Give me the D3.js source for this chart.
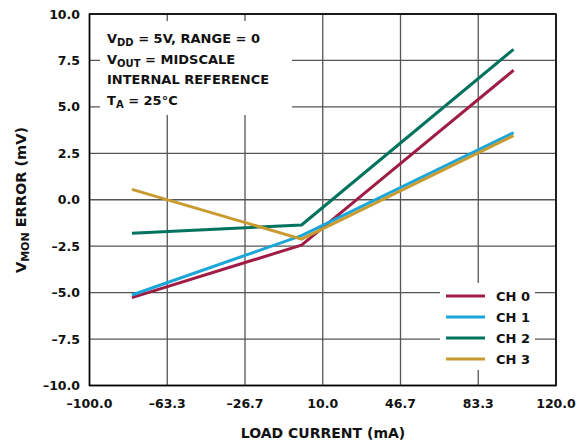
<!DOCTYPE html>
<html><head><meta charset="utf-8">
<script src="https://cdn.jsdelivr.net/npm/d3@7"></script>
<style>body{margin:0;background:#fff;} text{font-family:"DejaVu Sans",Arial,Helvetica,sans-serif;font-weight:bold;fill:#111;}</style>
</head><body>
<svg id="c" width="582" height="440"></svg>
<script>
const loadCurrent = [-80, 0, 100];
const ch0 = [-5.27, -2.44, 6.97];
const ch1 = [-5.13, -1.93, 3.61];
const ch2 = [-1.81, -1.36, 8.1];
const ch3 = [0.56, -2.12, 3.45];
const seriesNames = ["CH 0", "CH 1", "CH 2", "CH 3"];
const seriesColors = ["#a01c44", "#1aa6d9", "#00735f", "#c99a2e"];
const xTicks = [-100, -63.3, -26.7, 10, 46.7, 83.3, 120];
const xTickLabels = ["\u2013100.0", "\u201363.3", "\u201326.7", "10.0", "46.7", "83.3", "120.0"];
const yTicks = [10, 7.5, 5, 2.5, 0, -2.5, -5, -7.5, -10];

const svg = d3.select("#c");
const L = 89.5, R = 556, T = 14, B = 385.5;
const x = d3.scaleLinear().domain([-100, 120]).range([L, R]);
const y = d3.scaleLinear().domain([-10, 10]).range([B, T]);
const xPos = v => x(-100 + xTicks.indexOf(v) * 220 / 6);

// grid
const g = svg.append("g");
g.selectAll("line.v").data(xTicks).enter().append("line")
  .attr("x1", d => xPos(d)).attr("x2", d => xPos(d)).attr("y1", T).attr("y2", B)
  .attr("stroke", "#555").attr("stroke-width", 1.3);
g.selectAll("line.h").data(yTicks).enter().append("line")
  .attr("y1", d => y(d)).attr("y2", d => y(d)).attr("x1", L).attr("x2", R)
  .attr("stroke", "#555").attr("stroke-width", 1.3);

// white masks for annotation and legend
svg.append("rect").attr("x", 100).attr("y", 21).attr("width", 192).attr("height", 94).attr("fill", "#fff");
svg.append("rect").attr("x", 440).attr("y", 283).attr("width", 95).attr("height", 87).attr("fill", "#fff");

// frame
svg.append("rect").attr("x", L).attr("y", T).attr("width", R - L).attr("height", B - T)
  .attr("fill", "none").attr("stroke", "#000").attr("stroke-width", 1.6);

// axes labels
svg.append("g").selectAll("text").data(yTicks).enter().append("text")
  .attr("x", 80).attr("y", d => y(d) + 4.5).attr("text-anchor", "end").attr("font-size", 12.5)
  .text(d => (d < 0 ? "\u2013" : "") + Math.abs(d).toFixed(1));
svg.append("g").selectAll("text").data(xTicks).enter().append("text")
  .attr("x", d => xPos(d)).attr("y", 408).attr("text-anchor", "middle").attr("font-size", 12.5)
  .text((d, i) => xTickLabels[i]);

svg.append("text").attr("x", 323).attr("y", 437.5).attr("text-anchor", "middle").attr("font-size", 14)
  .text("LOAD CURRENT (mA)");
const yl = svg.append("text").attr("transform", "translate(26,200) rotate(-90)").attr("text-anchor", "middle").attr("font-size", 14.5);
yl.append("tspan").text("V");
yl.append("tspan").attr("font-size", 11).attr("dy", 3).text("MON");
yl.append("tspan").attr("dy", -3).text(" ERROR (mV)");

// data lines
const seriesData = [ch0, ch1, ch2, ch3];
const line = d3.line().x((d, i) => x(loadCurrent[i])).y(d => y(d));
svg.append("g").selectAll("path").data(seriesData).enter().append("path")
  .attr("d", d => line(d)).attr("fill", "none")
  .attr("stroke", (d, i) => seriesColors[i]).attr("stroke-width", 3).attr("stroke-linejoin", "round");

// annotation
const ann = svg.append("g").attr("font-size", 13);
function annLine(yy, parts) {
  const t = ann.append("text").attr("x", 107).attr("y", yy);
  parts.forEach(p => {
    const s = t.append("tspan").text(p[0]);
    if (p[1] === "sub") s.attr("font-size", 10).attr("dy", 3);
    if (p[1] === "up") s.attr("dy", -3);
  });
}
annLine(42.5, [["V"], ["DD", "sub"], [" = 5V, RANGE = 0", "up"]]);
annLine(63.5, [["V"], ["OUT", "sub"], [" = MIDSCALE", "up"]]);
annLine(84, [["INTERNAL REFERENCE"]]);
annLine(104.5, [["T"], ["A", "sub"], [" = 25\u00B0C", "up"]]);

// legend
const lg = svg.append("g");
seriesNames.forEach((n, i) => {
  const yy = 296 + i * 21;
  lg.append("line").attr("x1", 446).attr("x2", 485).attr("y1", yy).attr("y2", yy)
    .attr("stroke", seriesColors[i]).attr("stroke-width", 3);
  lg.append("text").attr("x", 496).attr("y", yy + 4.5).attr("font-size", 13).text(n);
});
</script>
</body></html>
